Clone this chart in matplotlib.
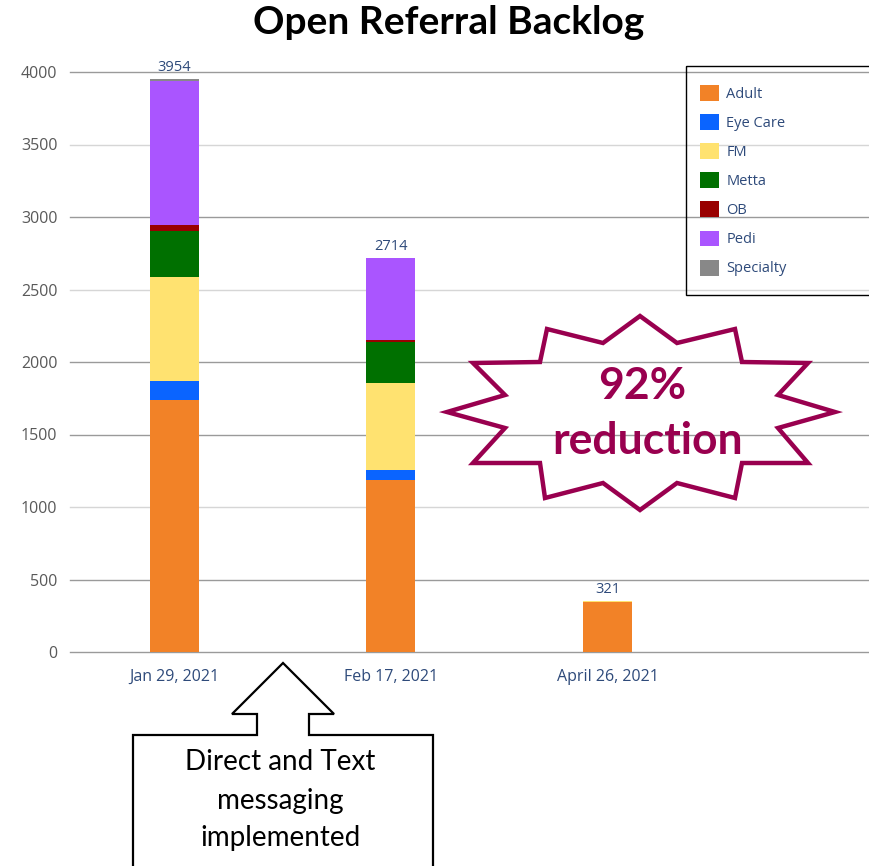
import matplotlib
matplotlib.use("Agg")
import matplotlib.pyplot as plt
from matplotlib.patches import Polygon, Rectangle
import numpy as np

# ---- data ----
dates = ["Jan 29, 2021", "Feb 17, 2021", "April 26, 2021"]
series_names = ["Adult", "Eye Care", "FM", "Metta", "OB", "Pedi", "Specialty"]
adult = [1738, 1188, 343]
eye_care = [131, 67, 0]
fm = [719, 598, 11]
metta = [318, 285, 0]
ob = [39, 14, 0]
pedi = [995, 562, 0]
specialty = [14, 0, 0]
totals = [3954, 2714, 321]
yticks = [0, 500, 1000, 1500, 2000, 2500, 3000, 3500, 4000]

series = [adult, eye_care, fm, metta, ob, pedi, specialty]
colors = ["#F28227", "#0A64FF", "#FFE270", "#007000", "#990000", "#AA55FF", "#888888"]

W, H = 869, 866
fig = plt.figure(figsize=(W / 100, H / 100), dpi=100)
fig.patch.set_facecolor("white")

ax = fig.add_axes([70 / W, (H - 652) / H, (W - 70) / W, 580 / H])
x = np.arange(len(dates))
bottom = np.zeros(len(dates))
handles = []
for name, vals, c in zip(series_names, series, colors):
    b = ax.bar(x, vals, width=0.226, bottom=bottom, color=c, label=name,
               edgecolor="none", zorder=3)
    handles.append(b)
    bottom += np.array(vals)

for xi, top, t in zip(x, bottom, totals):
    ax.annotate(str(t), (xi, top), xytext=(0, 3), textcoords="offset points",
                ha="center", va="bottom", fontsize=10.5, color="#2E4A7A",
                family="Open Sans", annotation_clip=False)

ax.set_ylim(0, 4000)
ax.set_xlim(-0.48, 2 + (W - 607) / 217.5)
ax.set_yticks(yticks)
ax.set_xticks(x)
ax.set_xticklabels(dates)
ax.tick_params(axis="both", length=0)
ax.tick_params(axis="y", pad=9, labelsize=11.5, labelcolor="#595959")
ax.tick_params(axis="x", pad=12, labelsize=11.5, labelcolor="#2E4A7A")
for lab in ax.get_xticklabels() + ax.get_yticklabels():
    lab.set_family("Open Sans")
for s in ax.spines.values():
    s.set_visible(False)
ax.yaxis.grid(True, zorder=0, linewidth=1)
ax.set_axisbelow(True)
grid_cols = {0: "#9a9a9a", 500: "#9a9a9a", 1000: "#d6d6d6", 1500: "#9a9a9a",
             2000: "#9a9a9a", 2500: "#d6d6d6", 3000: "#9a9a9a", 3500: "#d6d6d6",
             4000: "#9a9a9a"}
for gl, v in zip(ax.yaxis.get_gridlines(), yticks):
    gl.set_color(grid_cols[v])
    gl.set_clip_on(False)

# legend
leg = fig.legend(handles=handles, labels=series_names, loc="upper left",
                 bbox_to_anchor=(687 / W, 1 - 72 / H), frameon=False,
                 handlelength=1.3, handleheight=1.3, handletextpad=0.5,
                 labelspacing=0.84, prop={"family": "Open Sans", "size": 10.5},
                 labelcolor="#2E4A7A")

# overlay in pixel coordinates for decorations
ov = fig.add_axes([0, 0, 1, 1], facecolor="none")
ov.set_xlim(0, W)
ov.set_ylim(H, 0)
ov.axis("off")
ov.add_patch(Rectangle((686, 66), 200, 229, fill=False, edgecolor="black",
                       linewidth=1.0, zorder=2))

fig.text(449 / W, 1 - 22 / H, "Open Referral Backlog", ha="center", va="center",
         fontsize=28, fontweight="bold", family="Lato", color="black")

# starburst
star = [(640, 316), (677, 343), (735, 329), (742, 362), (808, 363), (778, 395),
        (835, 412), (778, 428), (808, 463), (742, 463), (735, 498), (677, 483),
        (640, 510), (603, 483), (545, 498), (540, 463), (473, 463), (505, 428),
        (447, 412), (505, 395), (473, 363), (540, 362), (547, 329), (603, 343)]
ov.add_patch(Polygon(star, closed=True, fill=False, edgecolor="#99004F",
                     linewidth=3.2, joinstyle="miter", zorder=3))
ov.text(642, 386, "92%", ha="center", va="center", fontsize=32,
        fontweight="bold", family="Lato", color="#99004F", zorder=4)
ov.text(648, 441, "reduction", ha="center", va="center", fontsize=32,
        fontweight="bold", family="Lato", color="#99004F", zorder=4)

# up-arrow callout
callout = [(283, 663), (334, 714), (309, 714), (309, 735), (433, 735), (433, 900),
           (133, 900), (133, 735), (257, 735), (257, 714), (232, 714)]
ov.add_patch(Polygon(callout, closed=True, facecolor="white", edgecolor="black",
                     linewidth=1.6, joinstyle="miter", zorder=3))
for ty, t in zip([762, 801, 838], ["Direct and Text", "messaging", "implemented"]):
    ov.text(280, ty, t, ha="center", va="center", fontsize=20, family="Lato",
            color="black", zorder=4)

fig.savefig("out.png", dpi=100, facecolor="white")
